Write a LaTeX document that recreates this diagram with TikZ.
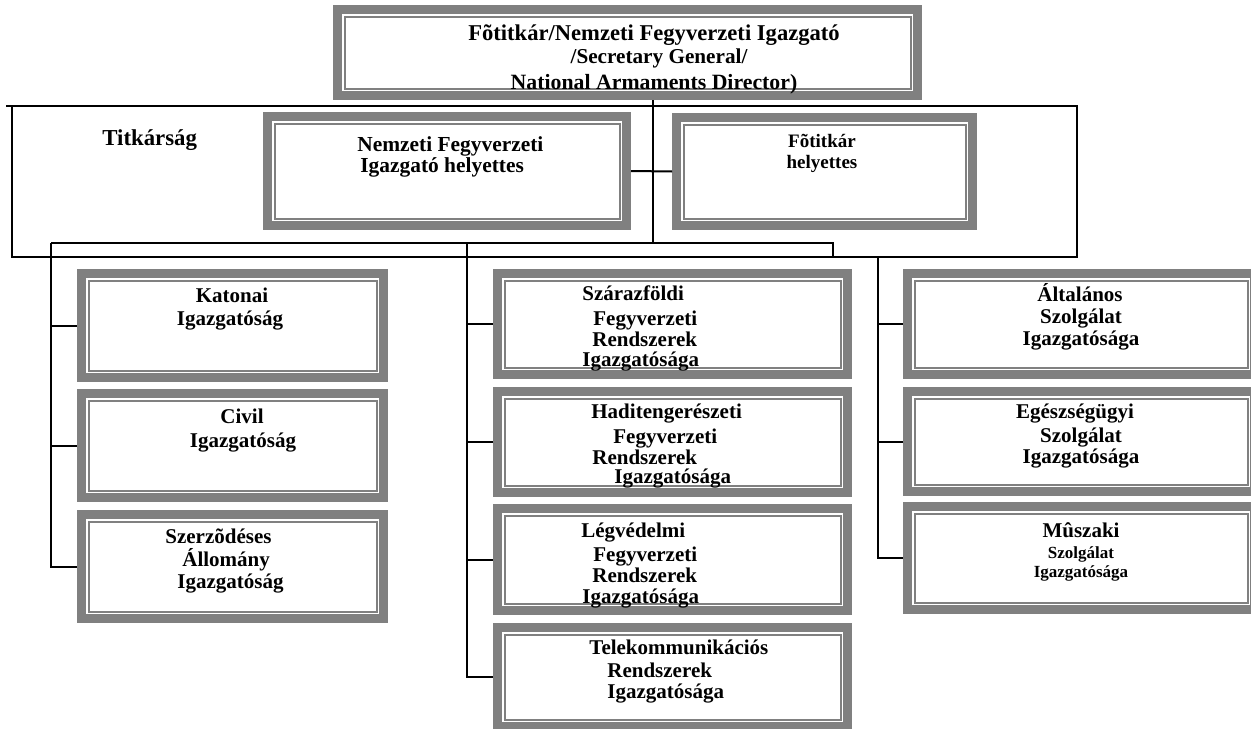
\documentclass[tikz,border=0pt]{standalone}
\usepackage{fontspec}
\setmainfont{Liberation Serif}
\definecolor{boxgray}{HTML}{808080}
\tikzset{
  lbl/.style={inner sep=0pt, text=black},
  obox/.style={draw=boxgray, line width=4.5pt, inner sep=0pt, anchor=north west},
  inln/.style={draw=boxgray, line width=1pt},
  conn/.style={draw=black, line width=1pt},
  frame/.style={draw=black, line width=1pt, inner sep=0pt, outer sep=0pt, anchor=north west},
}
% box: name, x1, y1, x2, y2 (pixel units, y downwards)
\newcommand{\obox}[5]{%
  \pgfmathsetmacro\bw{(#4-#2-9)*0.5}%
  \pgfmathsetmacro\bh{(#5-#3-9)*0.5}%
  \node[obox, minimum width=\bw pt, minimum height=\bh pt] (#1) at (#2,#3) {};%
  \draw[inln] ([xshift=5.75pt,yshift=-5.75pt]#1.north west) rectangle ([xshift=-5.75pt,yshift=5.75pt]#1.south east);%
}
% text line, left aligned: name, x, baseline y, size(pt), text
\newcommand{\tlw}[5]{\node[lbl, anchor=base west, font=\bfseries\fontsize{#4}{#4}\selectfont] (#1) at (#2,#3) {#5};}
% text line, centred
\newcommand{\tlc}[5]{\node[lbl, anchor=base, font=\bfseries\fontsize{#4}{#4}\selectfont] (#1) at (#2,#3) {#5};}
\begin{document}
\begin{tikzpicture}[x=0.5pt, y=-0.5pt]
\useasboundingbox (0,0) rectangle (1251,728);
\clip (0,0) rectangle (1251,728);

% Titkárság frame
\node[frame, minimum width=532.5pt, minimum height=75.5pt] (titk) at (12,106) {};
\draw[conn] (titk.north west) -- ++(-6,0);

% boxes
\obox{tb}{333}{5}{922}{100}
\obox{nem}{263}{112}{631}{230}
\obox{fot}{672}{113}{977}{230}
\obox{kat}{77}{269}{388}{382}
\obox{civ}{77}{389}{388}{502}
\obox{sze}{77}{510}{388}{623}
\obox{sza}{493}{269}{852}{379}
\obox{had}{493}{387}{852}{497}
\obox{leg}{493}{504}{852}{615}
\obox{tel}{493}{623}{852}{731}
\obox{alt}{903}{269}{1259}{379}
\obox{ege}{903}{387}{1259}{496}
\obox{mus}{903}{502}{1259}{614}

% connectors
\coordinate (bC) at (653,243);
\coordinate (bL) at (51,243);
\coordinate (bM) at (467,243);
\coordinate (bR) at (833,243);
\coordinate (rx) at (878,0);
\draw[conn] (tb.south -| bC) -- (bC);
\draw[conn] (nem.east) -- (fot.west);
\draw[conn] (bL) -- (bR) -- (bR |- titk.south);
\draw[conn] (bL) |- (sze.west);
\draw[conn] (kat.west) -- (kat.west -| bL);
\draw[conn] (civ.west) -- (civ.west -| bL);
\draw[conn] (bM) |- (tel.west);
\draw[conn] (sza.west) -- (sza.west -| bM);
\draw[conn] (had.west) -- (had.west -| bM);
\draw[conn] (leg.west) -- (leg.west -| bM);
\draw[conn] (titk.south -| rx) |- (mus.west);
\draw[conn] (alt.west) -- (alt.west -| rx);
\draw[conn] (ege.west) -- (ege.west -| rx);

% texts
\tlc{t1}{654}{40}{11.3pt}{Fõtitkár/Nemzeti Fegyverzeti Igazgató}
\tlc{t2}{659}{63}{10.6pt}{/Secretary General/}
\tlc{t3}{654}{89}{10.9pt}{National Armaments Director)}

\tlw{ti}{102}{145}{11.4pt}{Titkárság}
\tlw{n1}{357}{151}{10.7pt}{Nemzeti Fegyverzeti}
\tlw{n2}{360}{172}{10.7pt}{Igazgató helyettes}
\tlc{f1}{822}{147}{9.5pt}{Fõtitkár}
\tlc{f2}{822}{168}{9.5pt}{helyettes}

\tlc{k1}{232}{302}{10.5pt}{Katonai}
\tlc{k2}{230}{325}{10.5pt}{Igazgatóság}
\tlc{c1}{242}{423}{10.5pt}{Civil}
\tlc{c2}{243}{447}{10.5pt}{Igazgatóság}
\tlw{s1}{165}{543}{10.5pt}{Szerzõdéses}
\tlw{s2}{182}{566}{10.5pt}{Állomány}
\tlw{s3}{177}{588}{10.5pt}{Igazgatóság}

\tlw{m11}{582}{300}{10.5pt}{Szárazföldi}
\tlw{m12}{593}{325}{10.5pt}{Fegyverzeti}
\tlw{m13}{592}{346}{10.5pt}{Rendszerek}
\tlw{m14}{582}{366}{10.5pt}{Igazgatósága}
\tlw{m21}{591}{418}{10.5pt}{Haditengerészeti}
\tlw{m22}{613}{443}{10.5pt}{Fegyverzeti}
\tlw{m23}{592}{464}{10.5pt}{Rendszerek}
\tlw{m24}{614}{483}{10.5pt}{Igazgatósága}
\tlw{m31}{581}{537}{10.5pt}{Légvédelmi}
\tlw{m32}{593}{561}{10.5pt}{Fegyverzeti}
\tlw{m33}{592}{582}{10.5pt}{Rendszerek}
\tlw{m34}{582}{603}{10.5pt}{Igazgatósága}
\tlw{m41}{589}{654}{10.5pt}{Telekommunikációs}
\tlw{m42}{607}{677}{10.5pt}{Rendszerek}
\tlw{m43}{607}{698}{10.5pt}{Igazgatósága}

\tlc{r11}{1080}{301}{10.5pt}{Általános}
\tlc{r12}{1081}{323}{10.5pt}{Szolgálat}
\tlc{r13}{1081}{345}{10.5pt}{Igazgatósága}
\tlc{r21}{1075}{418}{10.5pt}{Egészségügyi}
\tlc{r22}{1081}{442}{10.5pt}{Szolgálat}
\tlc{r23}{1081}{463}{10.5pt}{Igazgatósága}
\tlc{r31}{1081}{537}{10.5pt}{Mûszaki}
\tlc{r32}{1081}{558}{8.5pt}{Szolgálat}
\tlc{r33}{1081}{577}{8.5pt}{Igazgatósága}
\end{tikzpicture}
\end{document}
